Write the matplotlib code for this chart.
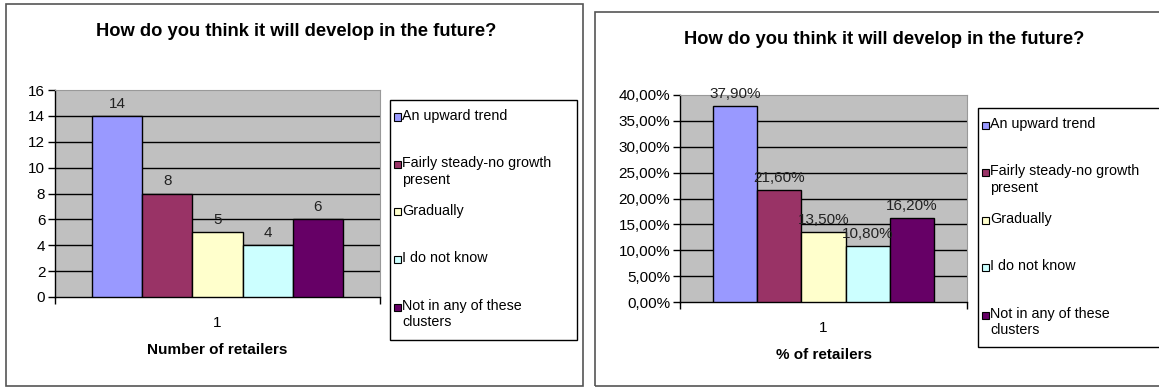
import matplotlib
matplotlib.use("Agg")
from matplotlib import pyplot as plt
from matplotlib.patches import Rectangle

plt.rcParams['font.family'] = ['Liberation Sans', 'DejaVu Sans']

title = "How do you think it will develop in the future?"
categories = ["An upward trend", "Fairly steady-no growth\npresent", "Gradually",
              "I do not know", "Not in any of these\nclusters"]
colors = ["#9999FF", "#993366", "#FFFFCC", "#CCFFFF", "#660066"]
counts = [14, 8, 5, 4, 6]
percents = [37.9, 21.6, 13.5, 10.8, 16.2]

W, H = 1159, 387
fig = plt.figure(figsize=(W / 100, H / 100), dpi=100)


def fx(px):
    return px / W


def fy(py):
    return 1 - py / H


def panel(box, ax_box, values, ymax, ystep, fmt, xlabel, title_y, legend_box, tick_fs, val_fs):
    # outer frame of the chart
    x0, y0, x1, y1 = box
    fig.patches.append(Rectangle((fx(x0), fy(y1)), fx(x1 - x0), fy(y0) - fy(y1),
                                 transform=fig.transFigure, fill=False,
                                 edgecolor="#555555", linewidth=1.2))
    fig.text(fx(296 if x0 < 300 else 884), fy(title_y), title, ha="center", va="center",
             fontsize=13.2, fontweight="bold")

    l, t, r, b = ax_box
    ax = fig.add_axes([fx(l), fy(b), fx(r - l), fy(t) - fy(b)])
    ax.set_facecolor("#C0C0C0")
    pos = list(range(len(values)))
    ax.bar(pos, values, width=1.0, color=colors, edgecolor="black", linewidth=1, zorder=3)
    for p, v in zip(pos, values):
        ax.text(p, v + ymax * 0.025, fmt(v), ha="center", va="bottom",
                fontsize=val_fs, color="#222222", zorder=4)
    pad = 0.74
    ax.set_xlim(-0.5 - pad, len(values) - 0.5 + pad)
    ax.set_ylim(0, ymax)
    ticks = [i * ystep for i in range(int(round(ymax / ystep)) + 1)]
    ax.set_yticks(ticks)
    ax.set_yticklabels([fmt(v) for v in ticks], fontsize=tick_fs)
    for v in ticks[1:-1]:
        ax.axhline(v, color="black", linewidth=1, zorder=1)
    ax.set_xticks([(len(values) - 1) / 2])
    ax.set_xticklabels(["1"], fontsize=11)
    ax.set_xticks(list(ax.get_xlim()), minor=True)
    ax.tick_params(axis="x", which="major", length=0, pad=14)
    ax.tick_params(axis="x", which="minor", length=5, direction="out", width=1)
    ax.tick_params(axis="y", length=5, direction="out", width=1, pad=2)
    ax.set_xlabel(xlabel, fontsize=11, fontweight="bold", labelpad=9)
    for s in ("top", "right"):
        ax.spines[s].set_color("#999999")
    for s in ("left", "bottom"):
        ax.spines[s].set_color("black")
        ax.spines[s].set_linewidth(1)

    # legend drawn as a boxed list with colour squares
    lx0, ly0, lx1, ly1 = legend_box
    fig.patches.append(Rectangle((fx(lx0), fy(ly1)), fx(lx1 - lx0), fy(ly0) - fy(ly1),
                                 transform=fig.transFigure, facecolor="white",
                                 edgecolor="black", linewidth=1))
    step = 47.5
    for i, (lab, c) in enumerate(zip(categories, colors)):
        yy = ly0 + 17 + i * step
        fig.patches.append(Rectangle((fx(lx0 + 4), fy(yy + 3.5)), fx(7), fy(yy - 3.5) - fy(yy + 3.5),
                                     transform=fig.transFigure, facecolor=c,
                                     edgecolor="black", linewidth=0.8))
        fig.text(fx(lx0 + 12), fy(yy - 8), lab, ha="left", va="top",
                 fontsize=10.3, linespacing=1.2)
    return ax


panel((6, 4, 583, 386), (55, 90, 380, 297), counts, 16, 2,
      lambda v: "%d" % v, "Number of retailers", 32, (390, 100, 577, 340), 11, 11)
panel((595, 12, 1170, 386), (680, 95, 967, 302), percents, 40, 5,
      lambda v: ("%.2f%%" % v).replace(".", ","), "% of retailers", 40, (978, 108, 1170, 347),
      11, 11)

fig.savefig("out.png", dpi=100)
